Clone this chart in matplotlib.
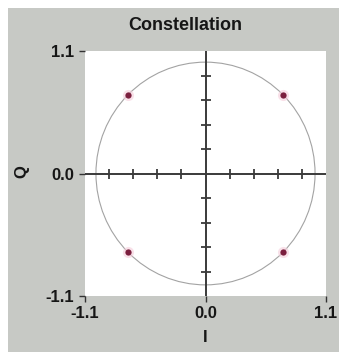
import numpy as np
import matplotlib
matplotlib.use("Agg")
import matplotlib.pyplot as plt
from matplotlib.patches import Rectangle, Circle

# Data
points_i = [0.707, -0.707, -0.707, 0.707]
points_q = [0.707, 0.707, -0.707, -0.707]
circle_radius = 1.0
cross_ticks = [-0.88, -0.66, -0.44, -0.22, 0.22, 0.44, 0.66, 0.88]
axis_ticks = [-1.1, 0.0, 1.1]
axis_ticklabels = ["-1.1", "0.0", "1.1"]
title = "Constellation"
xlabel = "I"
ylabel = "Q"

W, H = 339, 352
fig = plt.figure(figsize=(W / 100, H / 100), dpi=100)
fig.patch.set_facecolor("white")
gray = "#c7c9c5"
fig.patches.append(Rectangle((8 / W, 0), 1 - 8 / W, 1 - 8 / H, transform=fig.transFigure,
                             facecolor=gray, edgecolor="none", zorder=-10))

left, right, top, bottom = 85, 326, 51, 296
ax = fig.add_axes([left / W, 1 - bottom / H, (right - left) / W, (bottom - top) / H])
ax.set_zorder(1)
ax.set_facecolor("white")
for s in ax.spines.values():
    s.set_visible(False)
ax.set_xlim(-1.1, 1.1)
ax.set_ylim(-1.1, 1.1)

font = "Liberation Sans"
ax.set_xticks(axis_ticks)
ax.set_xticklabels(axis_ticklabels)
ax.set_yticks(axis_ticks)
ax.set_yticklabels(axis_ticklabels)
ax.tick_params(axis="both", length=4, width=1, color="#333333", labelsize=12,
               labelcolor="#161616")
ax.tick_params(axis="x", pad=3)
ax.tick_params(axis="y", pad=4)
for lab in ax.get_xticklabels() + ax.get_yticklabels():
    lab.set_fontfamily(font)
    lab.set_fontweight("bold")

# unit circle
circ = Circle((0, 0), circle_radius, facecolor="none", edgecolor="#a3a3a3", linewidth=0.8, zorder=2)
ax.add_patch(circ)

# crosshair
ax.axhline(0, color="#3a3a3a", linewidth=1.4, zorder=3)
ax.axvline(0, color="#3a3a3a", linewidth=1.4, zorder=3)
ax.plot(cross_ticks, [0] * len(cross_ticks), linestyle="none", marker="|",
        markersize=7, markeredgewidth=1.3, color="#3a3a3a", zorder=3)
ax.plot([0] * len(cross_ticks), cross_ticks, linestyle="none", marker="_",
        markersize=7, markeredgewidth=1.3, color="#3a3a3a", zorder=3)

# points
ax.plot(points_i, points_q, linestyle="none", marker="o", markersize=8,
        color="#f5cddb", alpha=0.6, markeredgewidth=0, zorder=4)
ax.plot(points_i, points_q, linestyle="none", marker="o", markersize=4.5,
        color="#7b1f3e", markeredgewidth=0, zorder=5)

fig.text(185 / W, 1 - 25 / H, title, ha="center", va="center", fontsize=13,
         fontweight="bold", family=font, color="#161616")
fig.text(205 / W, 1 - 338 / H, xlabel, ha="center", va="center", fontsize=12,
         fontweight="bold", family=font, color="#161616")
fig.text(22 / W, 1 - 172 / H, ylabel, ha="center", va="center", fontsize=12,
         fontweight="bold", family=font, color="#161616", rotation=90)

fig.savefig("out.png", dpi=100, facecolor=fig.get_facecolor())
